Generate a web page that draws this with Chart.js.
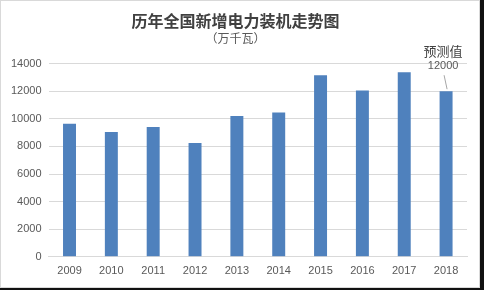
<!DOCTYPE html>
<html><head><meta charset="utf-8">
<script src="https://cdn.jsdelivr.net/npm/chart.js@4/dist/chart.umd.min.js"></script>
<style>
html,body{margin:0;padding:0;background:#111;}
#wrap{position:absolute;left:0;top:0;width:478px;height:286px;background:#fff;border:1px solid #d9d9d9;}
canvas{display:block;}
</style></head>
<body>
<div id="wrap"><canvas id="c" width="478" height="286"></canvas></div>
<script>
const years = ['2009','2010','2011','2012','2013','2014','2015','2016','2017','2018'];
const capacity = [9650, 9050, 9400, 8250, 10200, 10450, 13150, 12050, 13370, 12000];
const yTicks = [0, 2000, 4000, 6000, 8000, 10000, 12000, 14000];
const titleText = '历年全国新增电力装机走势图';
const subtitleText = '（万千瓦）';
const forecastIndex = 9;
const forecastLabel = ['预测值', '12000'];

const FONT = "'Noto Sans CJK SC', 'Liberation Sans', sans-serif";
const NUMFONT = "'Liberation Sans', Arial, sans-serif";

const forecastPlugin = {
  id: 'forecast',
  afterDatasetsDraw(chart) {
    const ctx = chart.ctx;
    const xs = chart.scales.x, ys = chart.scales.y;
    const x = xs.getPixelForValue(forecastIndex);
    const y = ys.getPixelForValue(capacity[forecastIndex]);
    ctx.save();
    ctx.strokeStyle = '#a6a6a6';
    ctx.lineWidth = 1;
    ctx.beginPath();
    ctx.moveTo(x - 2, y - 16);
    ctx.lineTo(x + 1, y - 2);
    ctx.stroke();
    ctx.fillStyle = '#404040';
    ctx.textAlign = 'center';
    ctx.textBaseline = 'middle';
    ctx.font = "13px " + FONT;
    ctx.fillText(forecastLabel[0], x - 3, y - 40);
    ctx.fillStyle = '#595959';
    ctx.font = "11px " + NUMFONT;
    ctx.fillText(forecastLabel[1], x - 3, y - 25);
    ctx.restore();
  }
};

new Chart(document.getElementById('c'), {
  type: 'bar',
  data: {
    labels: years,
    datasets: [{
      data: capacity,
      backgroundColor: '#4f81bd',
      barPercentage: 0.62,
      categoryPercentage: 0.5
    }]
  },
  options: {
    responsive: false,
    animation: false,
    layout: { padding: { left: 3, right: 12, bottom: 1, top: 0 } },
    plugins: {
      legend: { display: false },
      tooltip: { enabled: false },
      title: {
        display: true, text: titleText, color: '#404040',
        font: { family: FONT, size: 16, weight: 'bold' },
        padding: { top: 10, bottom: 1 }
      },
      subtitle: {
        display: true, text: subtitleText, color: '#595959',
        font: { family: FONT, size: 12 },
        padding: { top: 0, bottom: 18 }
      }
    },
    scales: {
      x: {
        grid: { display: false, drawTicks: false },
        border: { display: true, color: '#d9d9d9' },
        ticks: { color: '#595959', font: { family: NUMFONT, size: 11 }, padding: 8, maxRotation: 0 }
      },
      y: {
        min: 0, max: 14000,
        afterBuildTicks(axis) { axis.ticks = yTicks.map(v => ({ value: v })); },
        grid: { color: '#d9d9d9', drawTicks: false },
        border: { display: false },
        ticks: { color: '#595959', font: { family: NUMFONT, size: 11 }, padding: 7,
                 callback: v => String(v) }
      }
    }
  },
  plugins: [forecastPlugin]
});
</script>
</body></html>
